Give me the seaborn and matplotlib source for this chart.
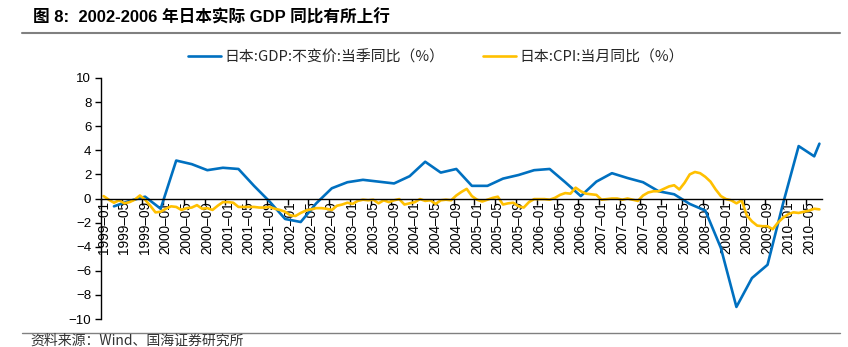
import numpy as np
import pandas as pd
import matplotlib
matplotlib.use("Agg")
import matplotlib.pyplot as plt
import seaborn as sns
from matplotlib.lines import Line2D

# Monthly category axis: 1999-01 .. 2010-07
months = pd.period_range("1999-01", "2010-07", freq="M").strftime("%Y-%m").tolist()

# Japan CPI, year-on-year by month (%)
cpi_yoy = [
    0.2, -0.1, -0.35, -0.15, -0.4, -0.3, -0.1, 0.25, -0.1, -0.6, -1.15, -1.1,      # 1999
    -0.85, -0.65, -0.7, -0.95, -0.8, -0.75, -0.55, -0.85, -0.8, -0.95, -0.6, -0.3,  # 2000
    -0.3, -0.35, -0.7, -0.7, -0.7, -0.7, -0.75, -0.75, -0.7, -0.85, -0.95, -1.1,    # 2001
    -1.4, -1.45, -1.2, -1.0, -0.9, -0.8, -0.8, -0.85, -0.95, -0.6, -0.5, -0.35,     # 2002
    -0.45, -0.2, -0.1, -0.15, -0.1, -0.4, -0.15, -0.3, -0.15, -0.05, -0.5, -0.4,    # 2003
    -0.3, -0.05, -0.2, -0.15, -0.45, -0.15, -0.1, -0.15, 0.25, 0.55, 0.8, 0.2,      # 2004
    -0.1, -0.25, -0.1, 0.05, 0.15, -0.5, -0.4, -0.35, -0.65, -0.75, -0.3, -0.05,    # 2005
    -0.05, -0.05, -0.1, 0.05, 0.3, 0.45, 0.4, 0.9, 0.6, 0.4, 0.35, 0.3,             # 2006
    -0.1, -0.05, 0.0, 0.0, -0.1, 0.0, -0.1, -0.2, 0.25, 0.5, 0.6, 0.6,              # 2007
    0.8, 1.0, 1.1, 0.75, 1.3, 2.0, 2.2, 2.1, 1.8, 1.4, 0.75, 0.2,                   # 2008
    -0.05, -0.15, -0.4, -0.15, -1.4, -1.9, -2.25, -2.3, -2.3, -2.55, -2.0, -1.6,    # 2009
    -1.3, -1.15, -1.2, -1.1, -1.0, -0.85, -0.9,                                      # 2010
]

# Japan real GDP, year-on-year by quarter (%)
gdp_months = [
    "1999-03", "1999-06", "1999-09", "1999-12",
    "2000-03", "2000-06", "2000-09", "2000-12",
    "2001-03", "2001-06", "2001-09", "2001-12",
    "2002-03", "2002-06", "2002-09", "2002-12",
    "2003-03", "2003-06", "2003-09", "2003-12",
    "2004-03", "2004-06", "2004-09", "2004-12",
    "2005-03", "2005-06", "2005-09", "2005-12",
    "2006-03", "2006-06", "2006-09", "2006-12",
    "2007-03", "2007-06", "2007-09", "2007-12",
    "2008-03", "2008-06", "2008-09", "2008-12",
    "2009-03", "2009-06", "2009-09", "2009-12",
    "2010-03", "2010-06", "2010-07",
]
gdp_yoy = [
    -0.65, -0.2, 0.15, -0.85,
    3.15, 2.85, 2.35, 2.55,
    2.45, 1.05, -0.25, -1.7,
    -1.95, -0.4, 0.85, 1.35,
    1.55, 1.4, 1.25, 1.85,
    3.05, 2.15, 2.45, 1.05,
    1.05, 1.65, 1.95, 2.35,
    2.45, 1.35, 0.2, 1.4,
    2.1, 1.7, 1.35, 0.6,
    0.35, -0.45, -1.0, -4.1,
    -9.0, -6.6, -5.5, -0.4,
    4.35, 3.5, 4.55,
]

gdp_label = "日本:GDP:不变价:当季同比（%）"
cpi_label = "日本:CPI:当月同比（%）"
title_text = "图 8:  2002-2006 年日本实际 GDP 同比有所上行"
source_text = "资料来源：Wind、国海证券研究所"

BLUE = "#0070C0"
GOLD = "#FFC000"

sns.set_theme(style="white")
plt.rcParams["font.family"] = ["Liberation Sans", "Noto Sans CJK SC", "DejaVu Sans"]
plt.rcParams["axes.unicode_minus"] = True

W, H = 848, 347
fig = plt.figure(figsize=(W / 100, H / 100), dpi=100)
ax = fig.add_axes([101 / W, 1 - 319 / H, 721 / W, 241 / H])

pos = {m: i for i, m in enumerate(months)}
cpi_df = pd.DataFrame({"idx": np.arange(len(months)), "val": cpi_yoy})
gdp_df = pd.DataFrame({"idx": [pos[m] for m in gdp_months], "val": gdp_yoy})

sns.lineplot(data=gdp_df, x="idx", y="val", ax=ax, color=BLUE, linewidth=1.9)
sns.lineplot(data=cpi_df, x="idx", y="val", ax=ax, color=GOLD, linewidth=1.9)

ax.set_xlim(-0.5, len(months) - 0.5)
ax.set_ylim(-10, 10)
ax.set_xlabel("")
ax.set_ylabel("")
ax.set_facecolor("white")

for s in ("top", "right"):
    ax.spines[s].set_visible(False)
ax.spines["left"].set_color("black")
ax.spines["left"].set_linewidth(1.0)
ax.spines["bottom"].set_position(("data", 0))
ax.spines["bottom"].set_color("black")
ax.spines["bottom"].set_linewidth(1.0)

ax.set_yticks(np.arange(-10, 11, 2))
ax.tick_params(axis="y", which="major", direction="out", length=4, width=1,
               color="black", labelsize=9.5, labelcolor="black", pad=3, left=True)

label_idx = np.arange(0, len(months), 4)
ax.set_xticks(label_idx - 0.5)
ax.set_xticklabels([])
ax.set_xticks(label_idx, minor=True)
ax.set_xticklabels([months[i].replace("-", "–") for i in label_idx], minor=True,
                   rotation=90, fontsize=9.8, color="black")
ax.tick_params(axis="x", which="major", direction="out", length=4, width=1,
               color="black", bottom=True)
ax.tick_params(axis="x", which="minor", length=0, pad=2, bottom=True)
ax.grid(False)

handles = [Line2D([], [], color=BLUE, lw=1.9), Line2D([], [], color=GOLD, lw=1.9)]
fig.legend(handles, [gdp_label, cpi_label], loc="center",
           bbox_to_anchor=(0.514, 1 - 57 / H), ncol=2, frameon=False,
           handlelength=2.2, handletextpad=0.25, columnspacing=2.6,
           prop={"family": ["Noto Sans CJK SC", "DejaVu Sans"], "size": 10.7})

fig.text(33 / W, 1 - 17 / H, title_text, fontsize=12, fontweight="bold",
         ha="left", va="center", color="black",
         family=["Liberation Sans", "Noto Sans CJK SC", "DejaVu Sans"])
fig.add_artist(Line2D([22 / W, 840 / W], [1 - 33 / H, 1 - 33 / H],
                      color="#808080", lw=1.5, transform=fig.transFigure))
fig.add_artist(Line2D([22 / W, 840 / W], [1 - 333 / H, 1 - 333 / H],
                      color="#808080", lw=1.0, transform=fig.transFigure))
fig.text(30 / W, 1 - 340.5 / H, source_text, fontsize=10, ha="left", va="center",
         color="#333333", family=["Noto Sans CJK SC", "DejaVu Sans"])

fig.savefig("out.png", dpi=100, facecolor="white")
